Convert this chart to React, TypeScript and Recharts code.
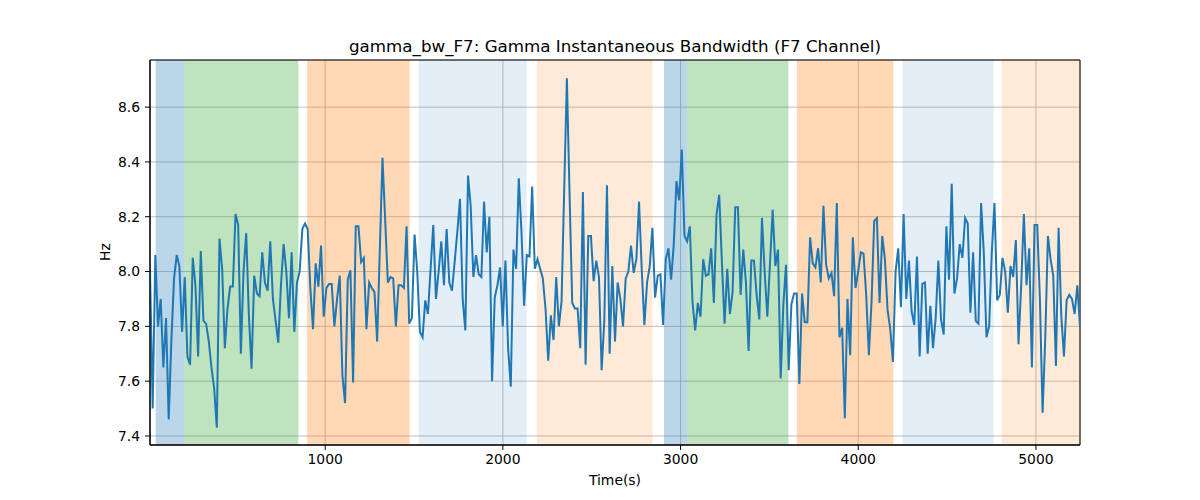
import { ComposedChart, Line, XAxis, YAxis, CartesianGrid, ReferenceArea } from "recharts";

// gamma bandwidth samples, evenly spaced in time
const T0 = 14;
const DT = 15.04;
const bandwidth = [
  8.005, 7.5, 8.06, 7.8, 7.9, 7.65, 7.83, 7.46, 7.75, 7.975,
  8.06, 8.02, 7.78, 7.98, 7.69, 7.66, 8.05, 7.95, 7.69, 8.075,
  7.82, 7.81, 7.745, 7.65, 7.575, 7.43, 8.12, 8.01, 7.72, 7.865,
  7.945, 7.945, 8.21, 8.17, 7.7, 8.0, 8.14, 7.84, 7.645, 7.985,
  7.92, 7.91, 8.07, 7.96, 7.93, 8.11, 7.9, 7.82, 7.74, 7.95,
  8.1, 8.0, 7.83, 8.07, 7.78, 7.96, 8.0, 8.155, 8.175, 8.155,
  7.94, 7.79, 8.03, 7.945, 8.095, 7.835, 7.94, 7.955, 7.955, 7.8,
  7.9, 7.985, 7.62, 7.52, 7.97, 8.005, 7.595, 8.165, 8.165, 8.035,
  8.05, 7.79, 7.96, 7.94, 7.925, 7.745, 8.08, 8.415, 8.19, 7.96,
  7.98, 7.975, 7.8, 7.95, 7.95, 7.94, 8.165, 7.81, 7.83, 8.135,
  8.0, 7.78, 7.76, 7.895, 7.845, 8.01, 8.17, 7.9, 8.0, 8.11,
  7.95, 8.155, 7.96, 7.93, 8.035, 8.145, 8.265, 7.9, 7.785, 8.35,
  8.24, 7.98, 8.06, 7.99, 7.98, 8.255, 8.07, 8.2, 7.6, 7.905,
  7.95, 8.015, 7.8, 8.04, 7.72, 7.58, 8.08, 8.01, 8.34, 8.145,
  7.875, 8.06, 8.055, 8.31, 8.01, 8.045, 8.01, 7.975, 7.865, 7.675,
  7.84, 7.75, 7.98, 7.8, 7.89, 8.3, 8.705, 8.28, 7.885, 7.865,
  7.865, 7.72, 8.29, 7.66, 8.13, 8.13, 7.965, 8.04, 7.98, 7.64,
  7.82, 8.315, 7.7, 8.02, 7.745, 7.96, 7.9, 7.8, 7.975, 8.0,
  8.095, 7.995, 8.045, 8.255, 8.01, 7.805, 7.96, 8.02, 8.16, 7.905,
  7.985, 7.99, 7.805, 8.045, 8.085, 7.97, 8.1, 8.33, 8.26, 8.445,
  8.13, 8.11, 8.165, 7.89, 7.785, 7.885, 7.835, 8.045, 7.985, 7.99,
  8.085, 7.885, 8.21, 8.28, 8.035, 7.81, 8.01, 7.845, 7.925, 8.235,
  8.235, 7.915, 8.08, 7.96, 7.71, 8.04, 8.04, 7.915, 7.825, 8.195,
  8.0, 7.835, 8.03, 8.225, 8.02, 8.08, 7.61, 7.88, 8.025, 7.64,
  7.88, 7.92, 7.92, 7.59, 7.92, 7.815, 7.815, 8.125, 8.03, 8.015,
  8.085, 7.96, 8.24, 8.025, 7.975, 7.995, 7.91, 8.25, 7.76, 7.795,
  7.465, 7.9, 7.695, 8.125, 7.94, 8.0, 8.07, 8.065, 7.915, 7.695,
  7.89, 8.185, 8.195, 7.885, 8.13, 8.045, 7.86, 7.79, 7.67, 8.0,
  8.085, 7.87, 8.21, 7.9, 8.04, 7.855, 7.805, 8.055, 7.69, 7.955,
  7.96, 7.7, 7.875, 7.72, 7.83, 8.04, 7.825, 7.77, 8.165, 7.97,
  8.32, 7.92, 7.975, 8.1, 8.05, 8.195, 8.175, 7.85, 8.07, 7.82,
  7.81, 8.25, 8.07, 7.76, 7.8, 8.07, 8.25, 7.895, 7.915, 8.05,
  8.0, 7.85, 8.02, 7.98, 8.115, 7.735, 7.95, 8.21, 7.95, 8.085,
  7.65, 8.17, 8.17, 7.9, 7.485, 7.755, 8.13, 8.045, 7.985, 7.655,
  8.16, 7.84, 7.69, 7.895, 7.915, 7.9, 7.845, 7.95, 7.8,
];

// shaded bands: start, end (seconds) and colour kind
const bandStart = [46, 209, 898, 1526, 2191, 2907, 3038, 3655, 4250, 4807];
const bandEnd = [209, 849, 1475, 2134, 2843, 3038, 3607, 4198, 4762, 5248];
const bandKind = ["blue", "green", "orange", "lightblue", "lightorange", "blue", "green", "orange", "lightblue", "lightorange"];

const xTicks = [1000, 2000, 3000, 4000, 5000];
const yTicks = [7.4, 7.6, 7.8, 8.0, 8.2, 8.4, 8.6];

const X_MIN = 14;
const X_MAX = 5248;
const Y_MIN = 7.367;
const Y_MAX = 8.772;

const bandStyle: Record<string, { fill: string; opacity: number }> = {
  blue: { fill: "#1f77b4", opacity: 0.3 },
  green: { fill: "#2ca02c", opacity: 0.3 },
  orange: { fill: "#ff7f0e", opacity: 0.3 },
  lightblue: { fill: "#1f77b4", opacity: 0.12 },
  lightorange: { fill: "#ff7f0e", opacity: 0.16 },
};

const rows = bandwidth.map((v, i) => ({ t: T0 + i * DT, bw: v }));

const font = "'DejaVu Sans', sans-serif";
const tickStyle = { fontSize: 13.9, fill: "#000", fontFamily: font };

export default function App() {
  return (
    <div style={{ position: "absolute", left: 0, top: 0, width: 1200, height: 500, background: "#fff", fontFamily: font }}>
      <ComposedChart width={1200} height={500} data={rows} margin={{ top: 60, right: 120, bottom: 0, left: 0 }}>
        {bandStart.map((s, i) => (
          <ReferenceArea
            key={i}
            x1={s}
            x2={bandEnd[i]}
            fill={bandStyle[bandKind[i]].fill}
            fillOpacity={bandStyle[bandKind[i]].opacity}
            stroke="none"
            ifOverflow="hidden"
          />
        ))}
        <CartesianGrid stroke="#b0b0b0" strokeWidth={0.8} />
        <XAxis
          dataKey="t"
          type="number"
          domain={[X_MIN, X_MAX]}
          ticks={xTicks}
          allowDataOverflow
          height={55}
          tickSize={5}
          tickMargin={4}
          tick={tickStyle}
          stroke="#000"
          tickLine={{ stroke: "#000" }}
        />
        <YAxis
          type="number"
          domain={[Y_MIN, Y_MAX]}
          ticks={yTicks}
          allowDataOverflow
          width={150}
          tickSize={5}
          tickMargin={5}
          tick={tickStyle}
          tickFormatter={(v: number) => v.toFixed(1)}
          stroke="#000"
          tickLine={{ stroke: "#000" }}
        />
        <Line
          type="linear"
          dataKey="bw"
          stroke="#1f77b4"
          strokeWidth={2}
          dot={false}
          isAnimationActive={false}
        />
        <ReferenceArea x1={X_MIN} x2={X_MAX} y1={Y_MIN} y2={Y_MAX} fill="none" stroke="#000" strokeWidth={1} />
      </ComposedChart>
      <div style={{ position: "absolute", left: 150, width: 930, top: 36, textAlign: "center", fontSize: 16.7, color: "#000" }}>
        gamma_bw_F7: Gamma Instantaneous Bandwidth (F7 Channel)
      </div>
      <div style={{ position: "absolute", left: 150, width: 930, top: 472, textAlign: "center", fontSize: 13.9, color: "#000" }}>
        Time(s)
      </div>
      <div
        style={{
          position: "absolute",
          left: 105,
          top: 252,
          fontSize: 13.9,
          color: "#000",
          transform: "translate(-50%, -50%) rotate(-90deg)",
        }}
      >
        Hz
      </div>
    </div>
  );
}
